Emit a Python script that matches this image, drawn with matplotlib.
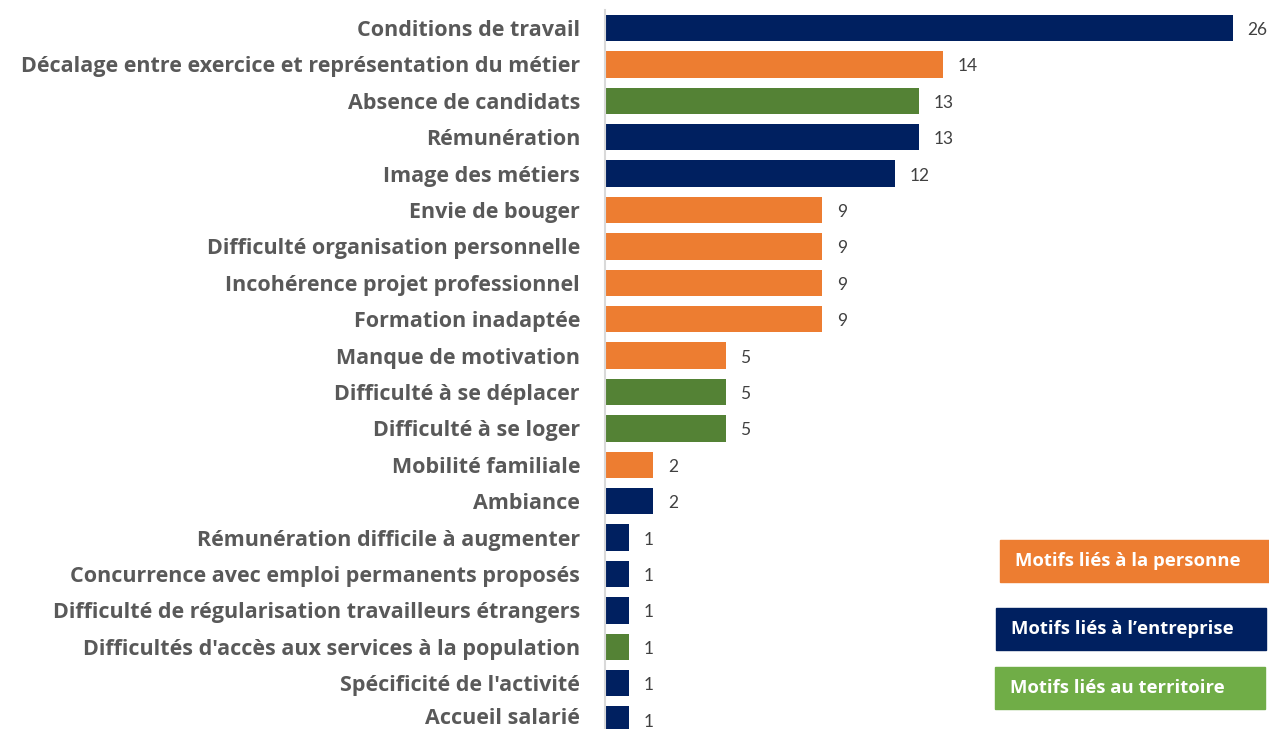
import matplotlib
matplotlib.use("Agg")
import matplotlib.pyplot as plt
import matplotlib.transforms as mtransforms
from matplotlib.patches import Rectangle

categories = [
    "Conditions de travail",
    "Décalage entre exercice et représentation du métier",
    "Absence de candidats",
    "Rémunération",
    "Image des métiers",
    "Envie de bouger",
    "Difficulté organisation personnelle",
    "Incohérence projet professionnel",
    "Formation inadaptée",
    "Manque de motivation",
    "Difficulté à se déplacer",
    "Difficulté à se loger",
    "Mobilité familiale",
    "Ambiance",
    "Rémunération difficile à augmenter",
    "Concurrence avec emploi permanents proposés",
    "Difficulté de régularisation travailleurs étrangers",
    "Difficultés d'accès aux services à la population",
    "Spécificité de l'activité",
    "Accueil salarié",
]
values = [26, 14, 13, 13, 12, 9, 9, 9, 9, 5, 5, 5, 2, 2, 1, 1, 1, 1, 1, 1]
groups = ["E", "P", "T", "E", "E", "P", "P", "P", "P", "P", "T", "T", "P", "E",
          "E", "E", "E", "T", "E", "E"]
legend_labels = ["Motifs liés à la personne", "Motifs liés à l\u2019entreprise", "Motifs liés au territoire"]

bar_colors = {"E": "#002060", "P": "#ED7D31", "T": "#548235"}
legend_colors = ["#ED7D31", "#002060", "#70AD47"]

plt.rcParams['font.family'] = ['Open Sans', 'DejaVu Sans']

W, H = 1269, 729
fig = plt.figure(figsize=(W / 100, H / 100), dpi=100)
fig.patch.set_facecolor("white")

left_px = 605
top_px = 9.8
bottom_px = 737.8
unit_px = 24.15
xmax = 27.0
ax = fig.add_axes([left_px / W, 1 - bottom_px / H, xmax * unit_px / W, (bottom_px - top_px) / H])

ypos = list(range(len(categories)))
ax.barh(ypos, values, height=0.72, color=[bar_colors[g] for g in groups])
ax.set_ylim(len(categories) - 0.5, -0.5)
ax.set_xlim(0, xmax)

ax.set_yticks(ypos)
ax.set_yticklabels(categories, fontsize=15.5, fontweight="bold", color="#595959")
ax.tick_params(axis="y", length=0, pad=18)
ax.set_xticks([])
for s in ["top", "right", "bottom"]:
    ax.spines[s].set_visible(False)
ax.spines["left"].set_color("#D9D9D9")
ax.spines["left"].set_linewidth(1.5)

# keep the bottom label inside the canvas
last = ax.get_yticklabels()[-1]
last.set_transform(last.get_transform() + mtransforms.ScaledTranslation(0, 4 / 100, fig.dpi_scale_trans))

for y, v in zip(ypos, values):
    ax.annotate(str(v), (v, y), xytext=(10.5, -1.5), textcoords="offset points",
                va="center", ha="left", fontsize=12.5, color="#404040",
                family=["Lato", "DejaVu Sans"])

boxes = [(1000, 540, 269, 42), (996, 608, 270, 42), (995, 667, 270, 42)]
for (x, y, w, h), lab, col in zip(boxes, legend_labels, legend_colors):
    fig.patches.append(Rectangle((x / W, 1 - (y + h) / H), w / W, h / H,
                                 transform=fig.transFigure, color=col, zorder=1))
    fig.text((x + 15) / W, 1 - (y + h / 2) / H, lab, color="white", fontsize=13.3,
             fontweight="bold", va="center", ha="left")

fig.savefig("out.png", dpi=100, facecolor="white")
